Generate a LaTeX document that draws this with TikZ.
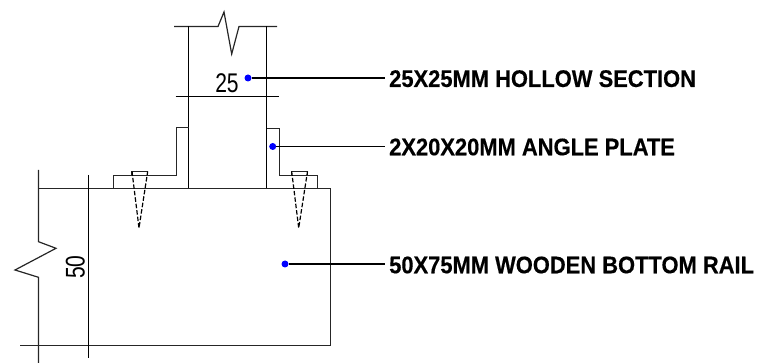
\documentclass[tikz,border=0pt]{standalone}
\usepackage{fontspec}
\setmainfont{Liberation Sans}
\newfontfamily\lblfont[FakeStretch=0.913,BoldFeatures={FakeStretch=0.913,FakeBold=0.4}]{Liberation Sans}
\newfontfamily\dimfont[FakeStretch=0.78]{Liberation Sans}
\begin{document}
\begin{tikzpicture}[x=1pt,y=-1pt,
  ln/.style={draw=black!85,line width=1.2pt,line join=miter},
  thin ln/.style={draw=black,line width=1.1pt},
  dashln/.style={draw=black,line width=1.2pt,dash pattern=on 4.5pt off 2pt},
  dot/.style={circle,fill=blue,inner sep=0pt,minimum size=7pt},
  lbl/.style={anchor=west,inner sep=0pt,font=\lblfont\fontsize{24pt}{26pt}\selectfont\bfseries},
  dim/.style={inner sep=0pt,font=\dimfont\fontsize{27pt}{28pt}\selectfont}]
\useasboundingbox (0,0) rectangle (760,363);
% column
\draw[ln] (174,26.5) -- (218,26.5) -- (224,12) -- (231.7,54) -- (239,26.5) -- (277,26.5);
\draw[thin ln] (188.5,26.5) -- (188.5,188.5);
\draw[thin ln] (266.5,26.5) -- (266.5,188.5);
\draw[thin ln] (175.5,96.5) -- (279,96.5);
% rail
\draw[ln] (38.5,170) -- (38.5,241.7) -- (56,248.3) -- (15,270) -- (38.5,277.3) -- (38.5,363);
\draw[ln] (38.5,188.5) -- (330.5,188.5) -- (330.5,345.5);
\draw[ln] (20,345.5) -- (330.5,345.5);
\draw[thin ln] (88.5,175) -- (88.5,358);
% angles
\draw[ln] (113.5,188.5) -- (113.5,175.5) -- (176.5,175.5) -- (176.5,127.5) -- (188.5,127.5);
\draw[ln] (266.5,128.5) -- (279.5,128.5) -- (279.5,175.5) -- (317.5,175.5) -- (317.5,188.5);
% screws
\draw[ln] (132,175.5) -- (132,171.5) -- (147.7,171.5) -- (147.7,175.5);
\draw[dashln] (132,171.5) -- (139,228) -- (147.7,171.5);
\draw[ln] (291.7,175.5) -- (291.7,171.5) -- (307.5,171.5) -- (307.5,175.5);
\draw[dashln] (291.7,171.5) -- (298.7,228) -- (307.5,171.5);
% texts
\node[dim] (d25) at (227,83.7) {25};
\node[dim,rotate=90] (d50) at (75.3,267) {50};
\node[lbl] (l1) at (389,78.7) {25X25MM HOLLOW SECTION};
\node[lbl] (l2) at (389,147) {2X20X20MM ANGLE PLATE};
\node[lbl] (l3) at (389,265) {50X75MM WOODEN BOTTOM RAIL};
\node[dot] (p1) at (248,78) {};
\node[dot] (p2) at (272.7,146.5) {};
\node[dot] (p3) at (285,264) {};
\coordinate (e1) at (385,78);
\coordinate (e2) at (385,146.5);
\coordinate (e3) at (385,264);
\draw[thin ln] (p1) -- (e1);
\draw[thin ln] (p2) -- (e2);
\draw[thin ln] (p3) -- (e3);
\end{tikzpicture}
\end{document}
